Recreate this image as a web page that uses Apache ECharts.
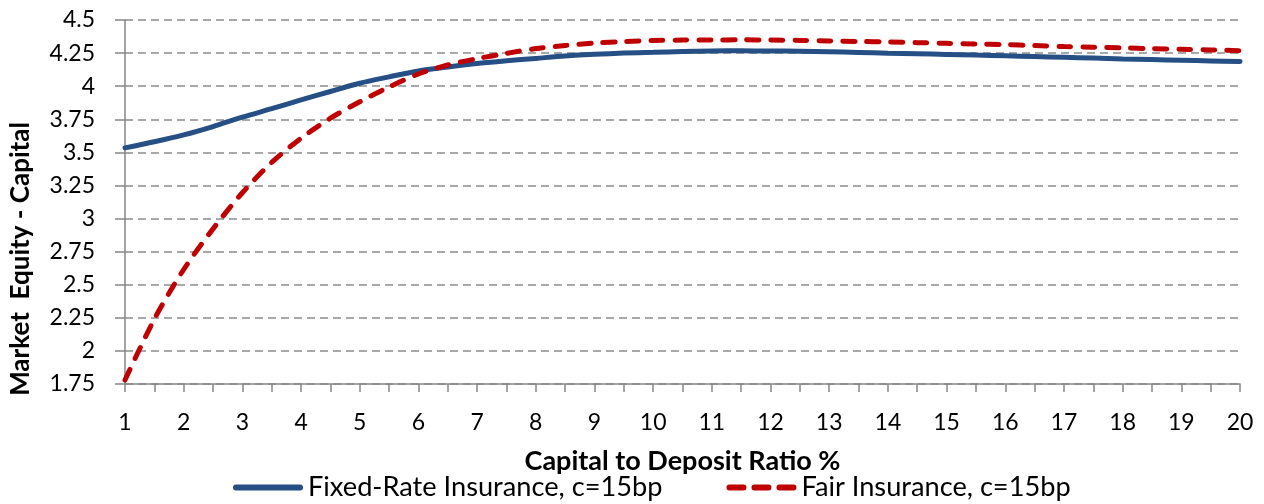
<!DOCTYPE html>
<html>
<head>
<meta charset="utf-8">
<script src="https://cdn.jsdelivr.net/npm/echarts@6/dist/echarts.min.js"></script>
<style>
html,body{margin:0;padding:0;background:#fff;}
#chart{width:1264px;height:504px;}
</style>
</head>
<body>
<div id="chart"></div>
<script>
var ratios = [1,1.5,2,2.5,3,3.5,4,4.5,5,5.5,6,6.5,7,7.5,8,8.5,9,9.5,10,10.5,11,11.5,12,12.5,13,13.5,14,14.5,15,15.5,16,16.5,17,17.5,18,18.5,19,19.5,20];
var fixedRate = [3.534,3.58,3.632,3.695,3.766,3.83,3.896,3.96,4.022,4.07,4.115,4.145,4.172,4.192,4.21,4.228,4.241,4.25,4.256,4.262,4.266,4.267,4.266,4.264,4.261,4.255,4.249,4.245,4.24,4.235,4.23,4.224,4.218,4.212,4.206,4.201,4.196,4.191,4.186];
var fairRate = [1.78,2.24,2.615,2.922,3.195,3.424,3.607,3.758,3.882,3.994,4.092,4.16,4.208,4.248,4.284,4.307,4.326,4.337,4.345,4.348,4.349,4.35,4.349,4.346,4.342,4.338,4.334,4.329,4.324,4.319,4.314,4.307,4.299,4.294,4.289,4.284,4.279,4.274,4.268];
var seriesNames = ['Fixed-Rate Insurance, c=15bp','Fair Insurance, c=15bp'];
var xTitle = 'Capital to Deposit Ratio %';
var yTitle = 'Market  Equity - Capital';

var FONT = 'Lato, "Open Sans", sans-serif';
var BLUE = '#254f85', RED = '#c00000';
var chart = echarts.init(document.getElementById('chart'), null, {renderer:'canvas'});
function pairs(arr){ return ratios.map(function(x,i){ return [x, arr[i]]; }); }
chart.setOption({
  animation:false,
  backgroundColor:'#ffffff',
  grid:{left:125, right:24, top:20, bottom:120, containLabel:false, outerBoundsMode:'none'},
  legend:{
    left:228, top:469,
    itemWidth:70, itemHeight:6, itemGap:64,
    textStyle:{fontFamily:FONT, fontSize:27.2, color:'#000'},
    data:[
      {name:seriesNames[0], icon:'path://M3,0H67A3,3 0 0 1 67,6H3A3,3 0 0 1 3,0Z', itemStyle:{color:BLUE}},
      {name:seriesNames[1], icon:'path://M3,0H17A3,3 0 0 1 17,6H3A3,3 0 0 1 3,0Z M28,0H42A3,3 0 0 1 42,6H28A3,3 0 0 1 28,0Z M53,0H67A3,3 0 0 1 67,6H53A3,3 0 0 1 53,0Z', itemStyle:{color:RED}}
    ]
  },
  xAxis:{
    type:'value', min:1, max:20, interval:1,
    name:xTitle, nameLocation:'middle', nameGap:64,
    nameTextStyle:{fontFamily:FONT, fontSize:27, fontWeight:'bold', color:'#000'},
    axisLine:{show:true, onZero:false, lineStyle:{color:'#868686', width:1.5}},
    axisTick:{show:true, length:8, lineStyle:{color:'#868686', width:1.5}},
    minorTick:{show:true, splitNumber:2, length:8, lineStyle:{color:'#868686', width:1.5}},
    axisLabel:{fontFamily:FONT, fontSize:23, color:'#000', margin:27},
    splitLine:{show:false}
  },
  yAxis:{
    type:'value', min:1.75, max:4.5, interval:0.25,
    name:yTitle, nameLocation:'middle', nameGap:91, nameRotate:90,
    nameTextStyle:{fontFamily:FONT, fontSize:26, fontWeight:'bold', color:'#000', padding:[0,114,0,0]},
    axisLine:{show:true, lineStyle:{color:'#868686', width:1.5}},
    axisTick:{show:true, length:10, lineStyle:{color:'#868686', width:1.5}},
    axisLabel:{fontFamily:FONT, fontSize:23, color:'#000', margin:30},
    splitLine:{show:true, lineStyle:{color:'#8c8c8c', width:1.5, type:[8,5]}}
  },
  series:[
    {name:seriesNames[0], type:'line', data:pairs(fixedRate), smooth:0.3, symbol:'none',
     lineStyle:{color:BLUE, width:5, cap:'round'}, itemStyle:{color:BLUE}, z:2},
    {name:seriesNames[1], type:'line', data:pairs(fairRate), smooth:0.3, symbol:'none',
     lineStyle:{color:RED, width:5, type:[12,12], cap:'round'}, itemStyle:{color:RED}, z:3}
  ]
});
</script>
</body>
</html>
